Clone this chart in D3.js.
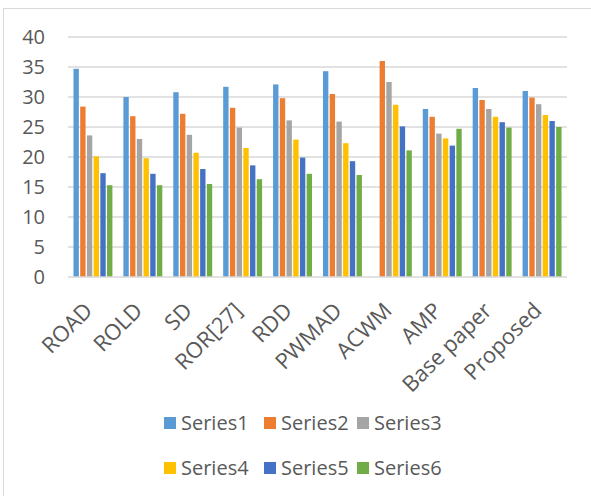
<!DOCTYPE html>
<html>
<head>
<meta charset="utf-8">
<script src="https://cdn.jsdelivr.net/npm/d3@7"></script>
<style>
  html, body { margin: 0; padding: 0; background: #fff; }
  svg { display: block; }
  text { font-family: "Open Sans", sans-serif; fill: #595959; }
</style>
</head>
<body>
<div id="chart"></div>
<script>
// Methods compared on the x axis
const categories = ["ROAD", "ROLD", "SD", "ROR[27]", "RDD", "PWMAD", "ACWM", "AMP", "Base paper", "Proposed"];
const seriesNames = ["Series1", "Series2", "Series3", "Series4", "Series5", "Series6"];

// One array per series, one value per method (null = no bar)
const series1 = [34.7, 30.0, 30.8, 31.7, 32.1, 34.3, null, 28.0, 31.5, 31.0];
const series2 = [28.4, 26.8, 27.2, 28.2, 29.8, 30.5, 36.0, 26.7, 29.5, 29.9];
const series3 = [23.6, 23.0, 23.7, 24.9, 26.1, 25.9, 32.5, 23.9, 28.0, 28.8];
const series4 = [20.1, 19.8, 20.7, 21.5, 22.9, 22.3, 28.7, 23.1, 26.7, 27.0];
const series5 = [17.3, 17.2, 18.0, 18.6, 19.9, 19.3, 25.1, 21.9, 25.8, 26.0];
const series6 = [15.3, 15.3, 15.5, 16.3, 17.2, 17.0, 21.1, 24.7, 24.9, 25.0];
const seriesValues = [series1, series2, series3, series4, series5, series6];

const yTicks = [0, 5, 10, 15, 20, 25, 30, 35, 40];
const colors = ["#5B9BD5", "#ED7D31", "#A5A5A5", "#FFC000", "#4472C4", "#70AD47"];

const width = 591, height = 496;
const plot = { left: 68, right: 567, top: 37, bottom: 277 };

const svg = d3.select("#chart").append("svg")
  .attr("width", width).attr("height", height);

// Chart area frame (left and top edges visible)
svg.append("rect")
  .attr("x", 3.5).attr("y", 8.5)
  .attr("width", 640).attr("height", 560)
  .attr("fill", "none").attr("stroke", "#d9d9d9").attr("stroke-width", 1);

const x0 = d3.scaleBand().domain(categories).range([plot.left, plot.right]).padding(0);
const bw = x0.bandwidth();
const x1 = d3.scaleBand().domain(seriesNames).range([bw * 0.11, bw * 0.89]).paddingInner(0.2);
const y = d3.scaleLinear().domain([0, 40]).range([plot.bottom, plot.top]);

// Horizontal gridlines
svg.append("g").selectAll("line")
  .data(yTicks.filter(t => t > 0))
  .join("line")
  .attr("x1", plot.left).attr("x2", plot.right)
  .attr("y1", d => y(d)).attr("y2", d => y(d))
  .attr("stroke", "#d9d9d9").attr("stroke-width", 1.5);

// Y axis labels
const yAxis = d3.axisLeft(y).tickValues(yTicks).tickSize(0).tickPadding(0);
const yg = svg.append("g").attr("transform", `translate(${plot.left - 23},0)`).call(yAxis);
yg.select(".domain").remove();
yg.selectAll("text").style("font-size", "20px").attr("fill", "#595959").attr("font-family", "Open Sans");

// Bars
const rows = categories.map((c, i) => ({ cat: c, vals: seriesNames.map((s, j) => ({ s, v: seriesValues[j][i], j })) }));
const groups = svg.append("g").selectAll("g")
  .data(rows).join("g")
  .attr("transform", d => `translate(${x0(d.cat)},0)`);
groups.selectAll("rect")
  .data(d => d.vals.filter(e => e.v != null))
  .join("rect")
  .attr("x", d => x1(d.s))
  .attr("width", x1.bandwidth())
  .attr("y", d => y(d.v))
  .attr("height", d => y(0) - y(d.v))
  .attr("fill", d => colors[d.j]);

// Category axis line
svg.append("line")
  .attr("x1", plot.left).attr("x2", plot.right)
  .attr("y1", y(0)).attr("y2", y(0))
  .attr("stroke", "#d9d9d9").attr("stroke-width", 1.5);

// Rotated category labels
const xAxis = d3.axisBottom(x0).tickSize(0).tickPadding(0);
const xg = svg.append("g").attr("transform", `translate(0,${plot.bottom})`).call(xAxis);
xg.select(".domain").remove();
xg.selectAll("text")
  .style("font-size", "22px").attr("fill", "#595959").attr("font-family", "Open Sans")
  .attr("text-anchor", "end")
  .attr("transform", "translate(-10,24) rotate(-45)")
  .attr("dy", "0.7em").attr("y", 0).attr("x", 0);

// Legend, two rows of three
const legendPos = [[164, 417], [264, 417], [357, 417], [164, 462], [264, 462], [357, 462]];
const lg = svg.append("g").selectAll("g")
  .data(seriesNames).join("g")
  .attr("transform", (d, i) => `translate(${legendPos[i][0]},${legendPos[i][1]})`);
lg.append("rect").attr("width", 12).attr("height", 12).attr("fill", (d, i) => colors[i]);
lg.append("text").attr("x", 17).attr("y", 6).attr("dy", "0.35em")
  .style("font-size", "20px").text(d => d);
</script>
</body>
</html>
